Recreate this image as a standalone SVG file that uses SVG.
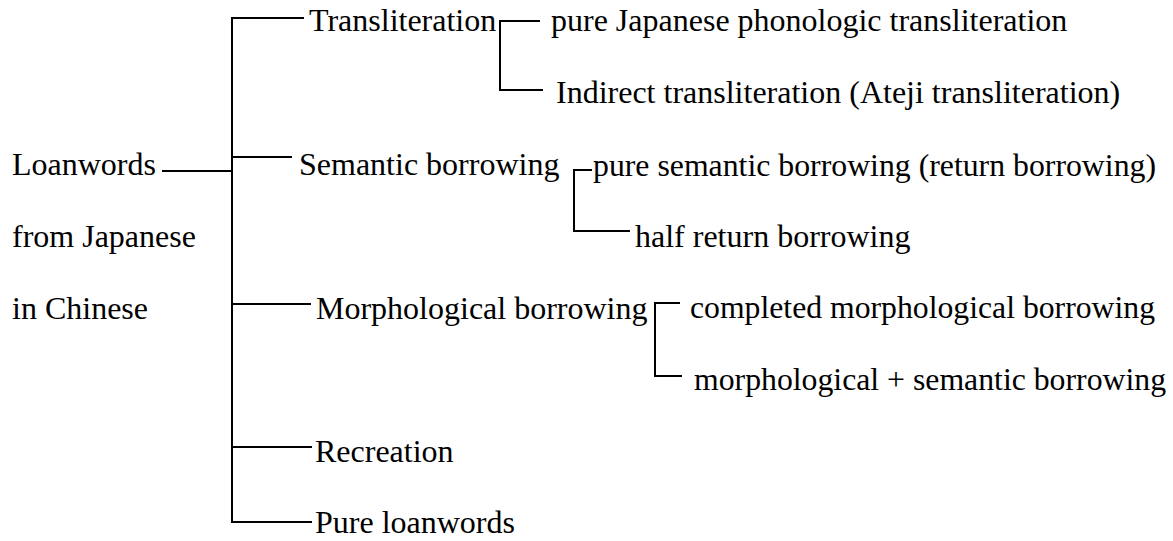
<svg xmlns="http://www.w3.org/2000/svg" width="1173" height="541" viewBox="0 0 1173 541">
<style>
text{font-family:"Liberation Serif","Times New Roman",serif;font-size:32px;fill:#000}
.c line{stroke:#000;stroke-width:2;fill:none}
</style>
<rect width="1173" height="541" fill="#fff"/>
<g class="c" id="connectors">
<line x1="232" y1="18" x2="232" y2="522"/>
<line x1="162" y1="171" x2="232" y2="171"/>
<line x1="231" y1="18" x2="304" y2="18"/>
<line x1="232" y1="157" x2="292" y2="157"/>
<line x1="232" y1="304" x2="311" y2="304"/>
<line x1="232" y1="447" x2="312" y2="447"/>
<line x1="231" y1="522" x2="312" y2="522"/>
<line x1="500" y1="20" x2="500" y2="91"/>
<line x1="499" y1="21" x2="540" y2="21"/>
<line x1="499" y1="90" x2="543" y2="90"/>
<line x1="574" y1="169" x2="574" y2="232"/>
<line x1="573" y1="170" x2="592" y2="170"/>
<line x1="573" y1="231" x2="630" y2="231"/>
<line x1="655" y1="302" x2="655" y2="377"/>
<line x1="654" y1="303" x2="680" y2="303"/>
<line x1="654" y1="376" x2="682" y2="376"/>
</g>
<g id="root"><text x="12" y="175">Loanwords</text><text x="12" y="247">from Japanese</text><text x="12" y="319">in Chinese</text></g>
<g id="transliteration"><text x="309" y="31">Transliteration</text></g>
<g id="pure-japanese"><text x="551" y="31">pure Japanese phonologic transliteration</text></g>
<g id="indirect"><text x="556" y="103">Indirect transliteration (Ateji transliteration)</text></g>
<g id="semantic"><text x="299" y="175">Semantic borrowing</text></g>
<g id="pure-semantic"><text x="593" y="176" textLength="563" lengthAdjust="spacingAndGlyphs">pure semantic borrowing (return borrowing)</text></g>
<g id="half-return"><text x="635" y="247">half return borrowing</text></g>
<g id="morphological"><text x="316" y="319">Morphological borrowing</text></g>
<g id="completed"><text x="690" y="318" textLength="465" lengthAdjust="spacingAndGlyphs">completed morphological borrowing</text></g>
<g id="morph-semantic"><text x="694" y="390" textLength="472" lengthAdjust="spacingAndGlyphs">morphological + semantic borrowing</text></g>
<g id="recreation"><text x="315" y="462">Recreation</text></g>
<g id="pure-loanwords"><text x="315" y="533">Pure loanwords</text></g>
</svg>
